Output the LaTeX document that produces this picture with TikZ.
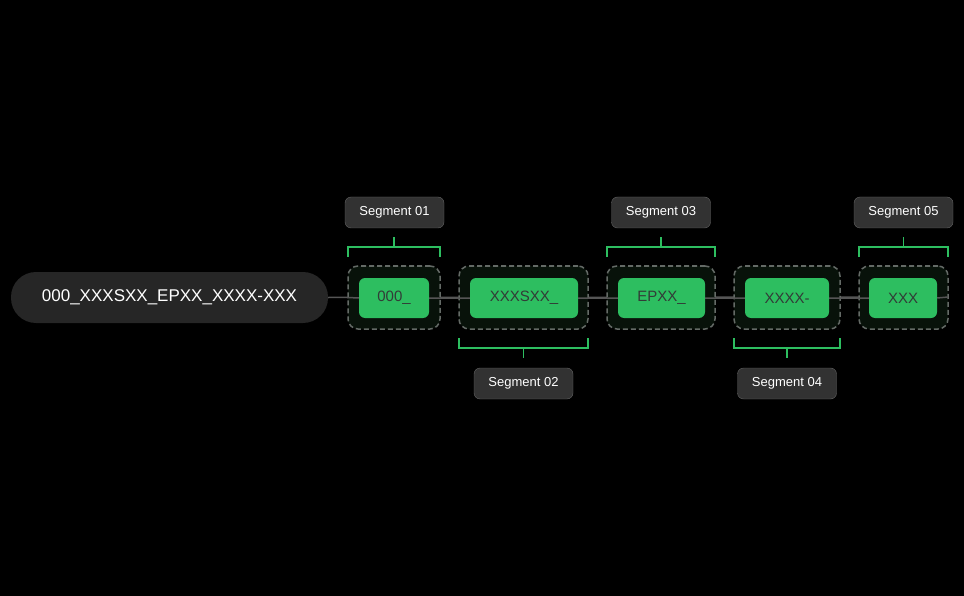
\documentclass[tikz,border=0pt]{standalone}
\usepackage{fontspec}
\setmainfont{Liberation Sans}
\definecolor{lin}{RGB}{85,85,85}
\definecolor{grn}{RGB}{45,190,96}
\definecolor{dk}{RGB}{8,18,10}
\definecolor{labf}{RGB}{50,50,50}
\definecolor{labd}{RGB}{100,100,100}
\definecolor{segt}{RGB}{50,60,55}
\definecolor{pill}{RGB}{38,38,38}
\definecolor{dash}{RGB}{100,106,102}
\begin{document}
\begin{tikzpicture}[x=1pt,y=-1pt,
 outer/.style={draw=dash,dash pattern=on 5pt off 3pt,line width=1.5pt,fill=dk,rounded corners=10pt,inner sep=0pt},
 seg/.style={fill=grn,rounded corners=6pt,text=segt,font=\fontsize{15}{18}\selectfont,inner sep=0pt,minimum height=40pt},
 lab/.style={fill=labf,draw=labd,rounded corners=6pt,text=white,font=\fontsize{13}{16}\selectfont,minimum width=99pt,minimum height=31pt,inner sep=0pt},
 br/.style={draw=grn,line width=1.3pt},
 conn/.style={draw=lin,line width=1.5pt}]
\fill[black] (0,0) rectangle (964,596);
\useasboundingbox (0,0) rectangle (964,596);
\node[fill=pill,rounded corners=25pt,minimum width=317pt,minimum height=51pt,text=white,font=\fontsize{17}{20}\selectfont,inner sep=0pt] (main) at (169.5,297.5) {000\_XXXSXX\_EPXX\_XXXX-XXX};
\coordinate (end) at (948,297);
\draw[conn] (main.east) -- (end);
\foreach \n/\l/\r/\gl/\gr/\t in {1/348/440/359/429/000\_,2/459/588/470/578/XXXSXX\_,3/607/715/618/705/EPXX\_,4/734/840/745/829/XXXX-,5/859/948/869/937/XXX}{
 \node[outer,minimum width={\r-\l},minimum height=63pt] (o\n) at ({(\l+\r)/2},297.5) {};
 \node[seg,minimum width={\gr-\gl}] (s\n) at ({(\gl+\gr)/2},298) {\t};
}
\draw[conn] (s1.east)--(s2.west) (s2.east)--(s3.west) (s3.east)--(s4.west) (s4.east)--(s5.west) (o1.west)--(s1.west) (s5.east)--(end);
\foreach \n/\l/\r in {1/348/440,3/607/715,5/859/948}{
 \draw[br] (\l,257)--(\l,247)--(\r,247)--(\r,257) ({(\l+\r)/2},247)--({(\l+\r)/2},237);
}
\foreach \n/\l/\r in {2/459/588,4/734/840}{
 \draw[br] (\l,338)--(\l,348)--(\r,348)--(\r,338) ({(\l+\r)/2},348)--({(\l+\r)/2},358);
}
\node[lab] (l1) at (394.5,212.5) {Segment 01};
\node[lab] (l2) at (523.5,383.5) {Segment 02};
\node[lab] (l3) at (661,212.5) {Segment 03};
\node[lab] (l4) at (787,383.5) {Segment 04};
\node[lab] (l5) at (903.5,212.5) {Segment 05};
\end{tikzpicture}
\end{document}
